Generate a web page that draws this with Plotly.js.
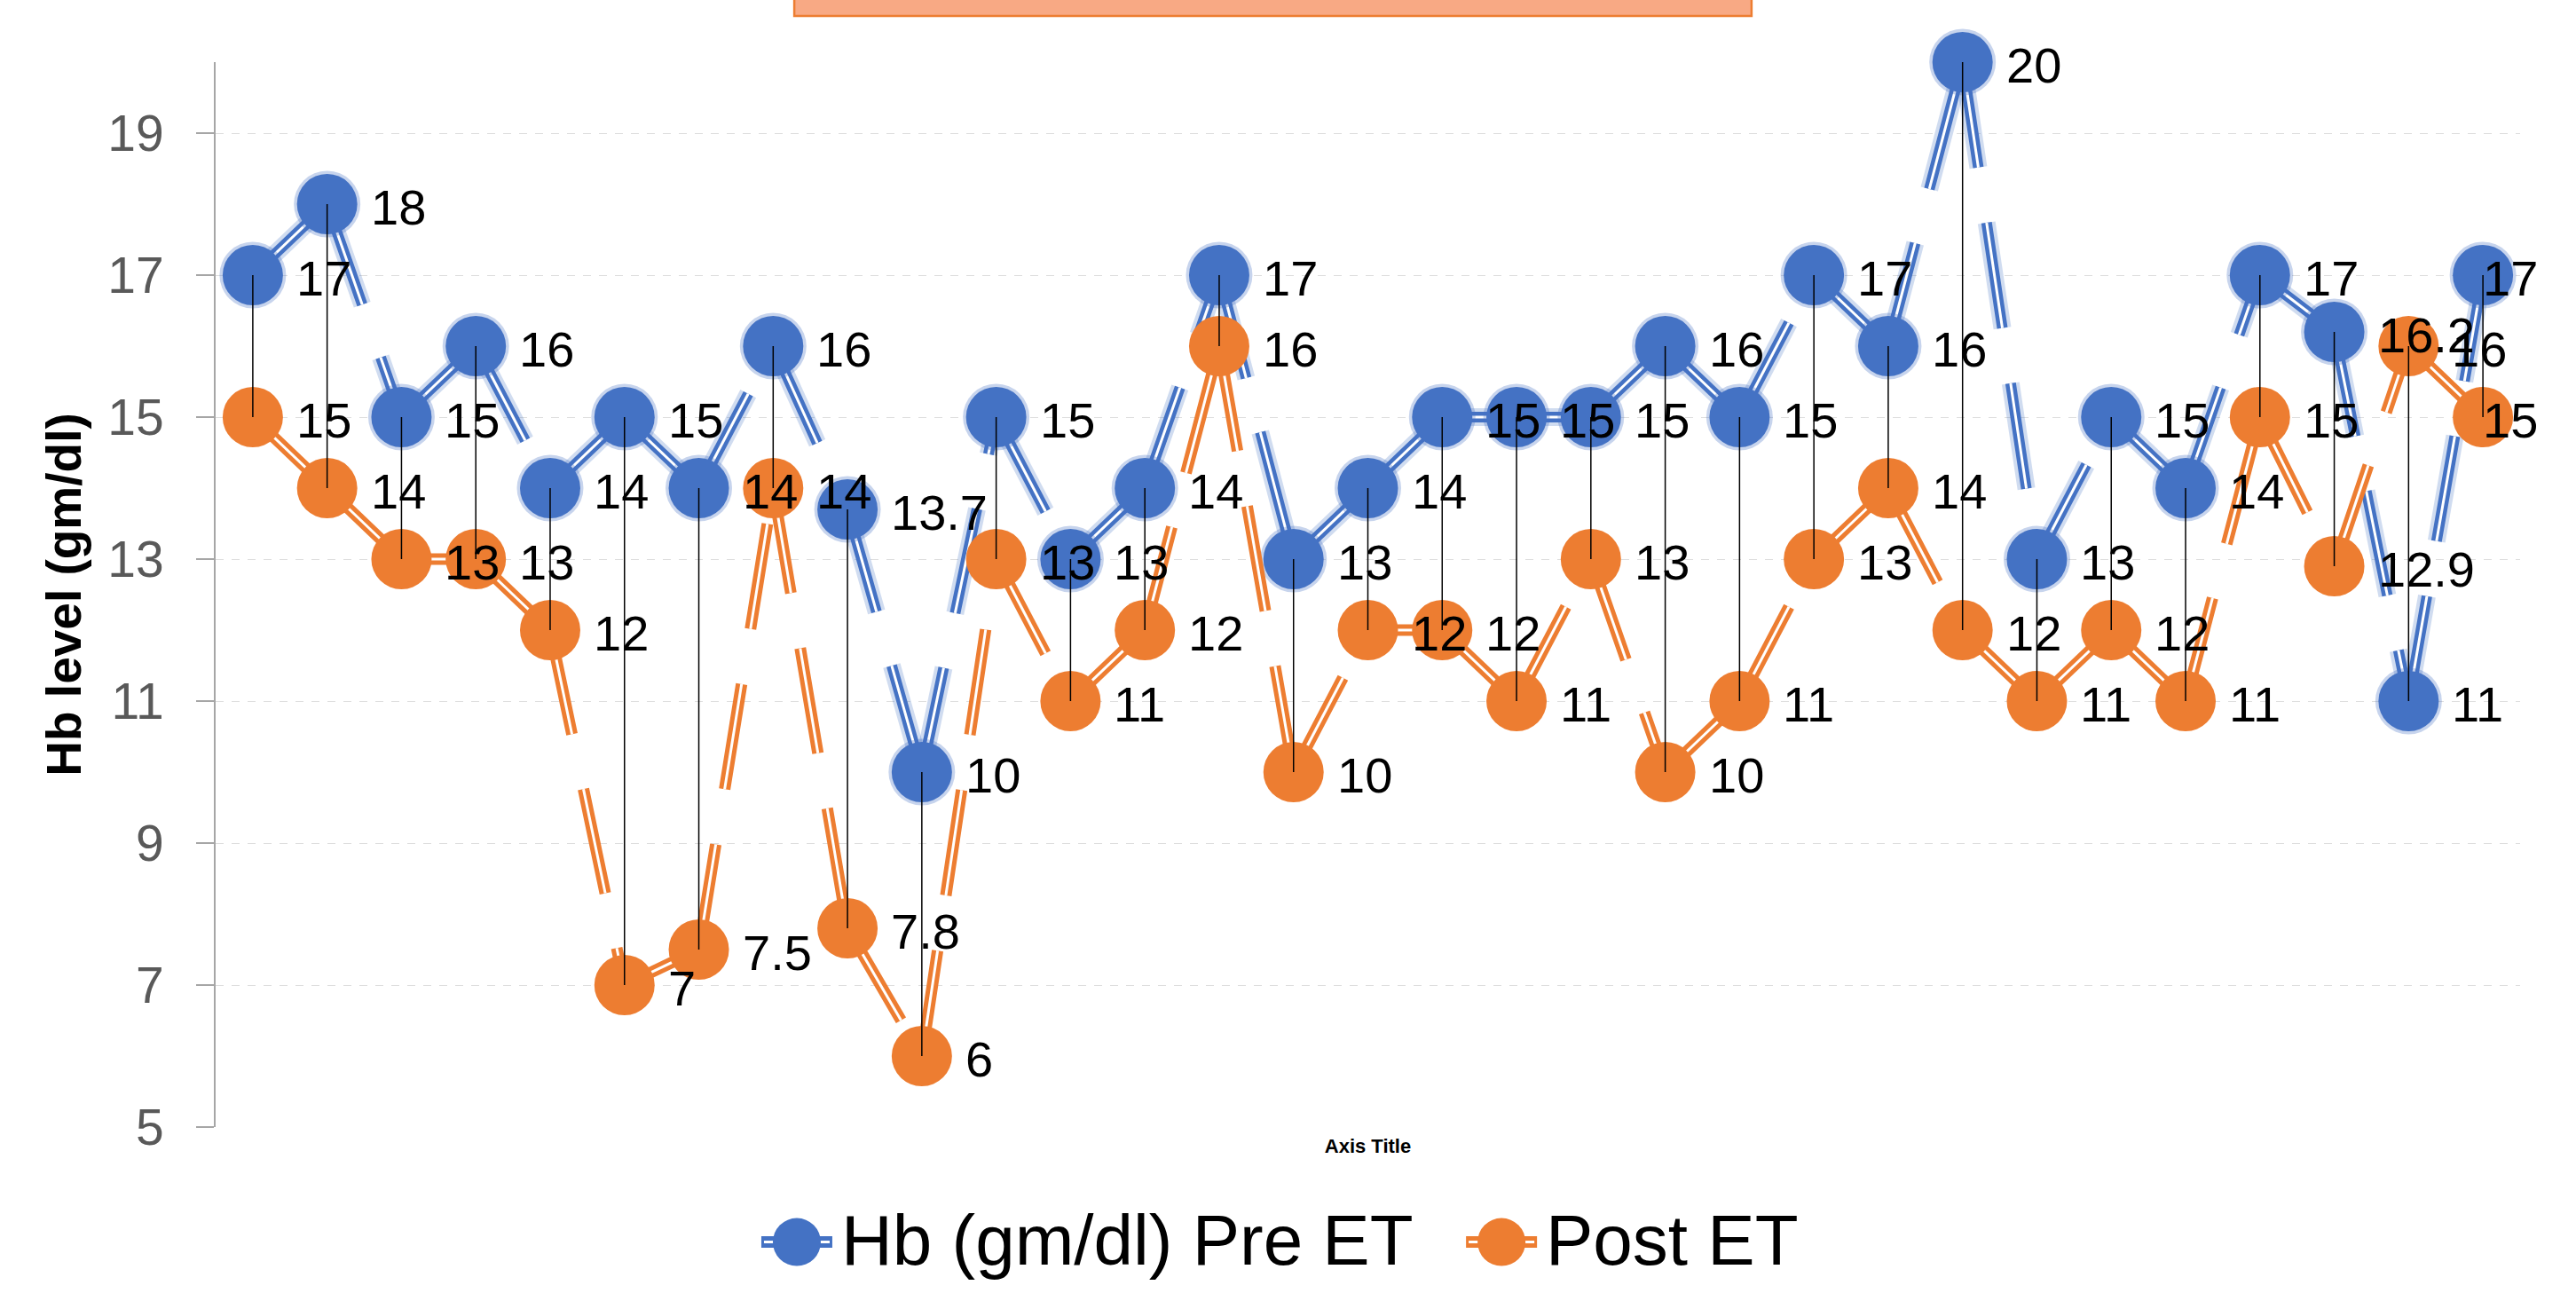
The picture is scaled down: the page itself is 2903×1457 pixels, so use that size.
<!DOCTYPE html>
<html>
<head>
<meta charset="utf-8">
<script src="https://cdn.plot.ly/plotly-3.0.1.min.js"></script>
<style>
html, body { margin: 0; padding: 0; background: #ffffff; }
#chart { width: 2903px; height: 1457px; }
</style>
</head>
<body>
<div id="chart"></div>
<script>
// ---- data ----
const patient = [1, 2, 3, 4, 5, 6, 7, 8, 9, 10, 11, 12, 13, 14, 15, 16, 17, 18, 19, 20, 21, 22, 23, 24, 25, 26, 27, 28, 29, 30, 31];
const hbPre  = [17, 18, 15, 16, 14, 15, 14, 16, 13.7, 10, 15, 13, 14, 17, 13, 14, 15, 15, 15, 16, 15, 17, 16, 20, 13, 15, 14, 17, 16.2, 11, 17];
const hbPost = [15, 14, 13, 13, 12, 7, 7.5, 14, 7.8, 6, 13, 11, 12, 16, 10, 12, 12, 11, 13, 10, 11, 13, 14, 12, 11, 12, 11, 15, 12.9, 16, 15];
const seriesNames = ['Hb (gm/dl) Pre ET', 'Post ET'];
const yTickVals = [5, 7, 9, 11, 13, 15, 17, 19];
const yTitle = 'Hb level (gm/dl)';
const xTitle = 'Axis Title';

// ---- styles ----
const BLUE = '#4472C4';
const ORANGE = '#ED7D31';
const FONT = 'Liberation Sans, Arial, sans-serif';
const DASH = '120px,63px';

// each line segment is its own sub-path so the dash pattern restarts per segment
function segments(xs, ys) {
  const x = [], y = [];
  for (let i = 0; i < xs.length - 1; i++) {
    x.push(xs[i], xs[i + 1], null);
    y.push(ys[i], ys[i + 1], null);
  }
  return { x, y };
}
function dropLines(xs, a, b) {
  const x = [], y = [];
  for (let i = 0; i < xs.length; i++) {
    x.push(xs[i], xs[i], null);
    y.push(a[i], b[i], null);
  }
  return { x, y };
}
// data labels to the right of each point; the last one sits on its point to stay inside
function dataLabels(xs, ys) {
  return xs.map((x, i) => ({
    xref: 'x', yref: 'y', x: x, y: ys[i], text: String(ys[i]), showarrow: false,
    xanchor: 'left', yanchor: 'middle', xshift: (i === xs.length - 1) ? -2 : 47, yshift: -3,
    font: { family: FONT, size: 56, color: '#000000' }
  }));
}

const segPre = segments(patient, hbPre);
const segPost = segments(patient, hbPost);
const drops = dropLines(patient, hbPre, hbPost);

const base = { type: 'scatter', hoverinfo: 'skip', showlegend: false, cliponaxis: false };

const traces = [
  // blue series: glow, line, white stripe, marker halo, markers
  Object.assign({}, base, { x: segPre.x, y: segPre.y, mode: 'lines', connectgaps: false,
    line: { color: 'rgba(68,114,196,0.25)', width: 20, dash: DASH } }),
  Object.assign({}, base, { x: segPre.x, y: segPre.y, mode: 'lines', connectgaps: false,
    line: { color: BLUE, width: 12, dash: DASH } }),
  Object.assign({}, base, { x: segPre.x, y: segPre.y, mode: 'lines', connectgaps: false,
    line: { color: '#ffffff', width: 3, dash: DASH } }),
  Object.assign({}, base, { x: patient, y: hbPre, mode: 'markers',
    marker: { size: 75, color: 'rgba(68,114,196,0.3)', line: { width: 0 } } }),
  Object.assign({}, base, { x: patient, y: hbPre, mode: 'markers', name: seriesNames[0],
    marker: { size: 68, color: BLUE, line: { width: 0 } } }),
  // orange series: line, white stripe, markers
  Object.assign({}, base, { x: segPost.x, y: segPost.y, mode: 'lines', connectgaps: false,
    line: { color: ORANGE, width: 13, dash: DASH } }),
  Object.assign({}, base, { x: segPost.x, y: segPost.y, mode: 'lines', connectgaps: false,
    line: { color: '#ffffff', width: 3, dash: DASH } }),
  Object.assign({}, base, { x: patient, y: hbPost, mode: 'markers', name: seriesNames[1],
    marker: { size: 68, color: ORANGE, line: { width: 0 } } }),
  // high-low lines
  Object.assign({}, base, { x: drops.x, y: drops.y, mode: 'lines', connectgaps: false,
    line: { color: '#000000', width: 1.5 } })
];

// legend drawn as shapes + text (large symbols as in the reference)
const legendY = -0.108;
const legendItems = [
  { color: BLUE, sx: 0.2522, tx: 0.2707, label: seriesNames[0] },
  { color: ORANGE, sx: 0.5580, tx: 0.5764, label: seriesNames[1] }
];
const shapes = [
  // title box (cropped at top of the image)
  { type: 'rect', xref: 'paper', yref: 'paper', x0: 0.2511, x1: 0.6665, y0: 1.0433, y1: 1.25,
    fillcolor: '#F8A984', line: { color: ORANGE, width: 2.5 }, layer: 'above' }
];
legendItems.forEach(it => {
  const common = { xref: 'paper', yref: 'paper', xsizemode: 'pixel', ysizemode: 'pixel',
    xanchor: it.sx, yanchor: legendY, layer: 'above' };
  shapes.push(Object.assign({}, common, { type: 'line', x0: -40, x1: 40, y0: 0, y1: 0,
    line: { color: it.color, width: 13 } }));
  shapes.push(Object.assign({}, common, { type: 'line', x0: -37, x1: 37, y0: 0, y1: 0,
    line: { color: '#ffffff', width: 3 } }));
  shapes.push(Object.assign({}, common, { type: 'circle', x0: -27, x1: 27, y0: -27, y1: 27,
    fillcolor: it.color, line: { width: 0 } }));
});
const legendText = legendItems.map(it => ({
  xref: 'paper', yref: 'paper', x: it.tx, y: legendY + 0.0017, xanchor: 'left', yanchor: 'middle',
  text: it.label, showarrow: false, font: { family: FONT, size: 80, color: '#000000' }
}));

const annotations = dataLabels(patient, hbPre).concat(dataLabels(patient, hbPost), legendText);

const layout = {
  width: 2903, height: 1457,
  margin: { l: 243, r: 63, t: 70, b: 187, pad: 0 },
  paper_bgcolor: '#ffffff', plot_bgcolor: '#ffffff',
  showlegend: false,
  font: { family: FONT, color: '#000000' },
  xaxis: {
    range: [0.5, 31.5], showgrid: false, zeroline: false, showline: false,
    showticklabels: false, ticks: '', fixedrange: true,
    title: { text: xTitle, standoff: 13, font: { family: FONT, size: 22, weight: 700, color: '#000000' } }
  },
  yaxis: {
    range: [5, 20], tickmode: 'array', tickvals: yTickVals, ticktext: yTickVals.map(String),
    showgrid: true, gridcolor: '#DEDEDE', gridwidth: 1, griddash: 'dash',
    zeroline: false, showline: true, linecolor: '#A6A6A6', linewidth: 2,
    ticks: 'outside', ticklen: 20, tickwidth: 2, tickcolor: '#A6A6A6',
    ticklabelstandoff: 25,
    tickfont: { family: FONT, size: 57, color: '#595959' },
    title: { text: yTitle, standoff: 12, font: { family: FONT, size: 55, weight: 700, color: '#000000' } }
  },
  shapes: shapes,
  annotations: annotations
};

Plotly.newPlot('chart', traces, layout, { staticPlot: true, displayModeBar: false });
</script>
</body>
</html>
